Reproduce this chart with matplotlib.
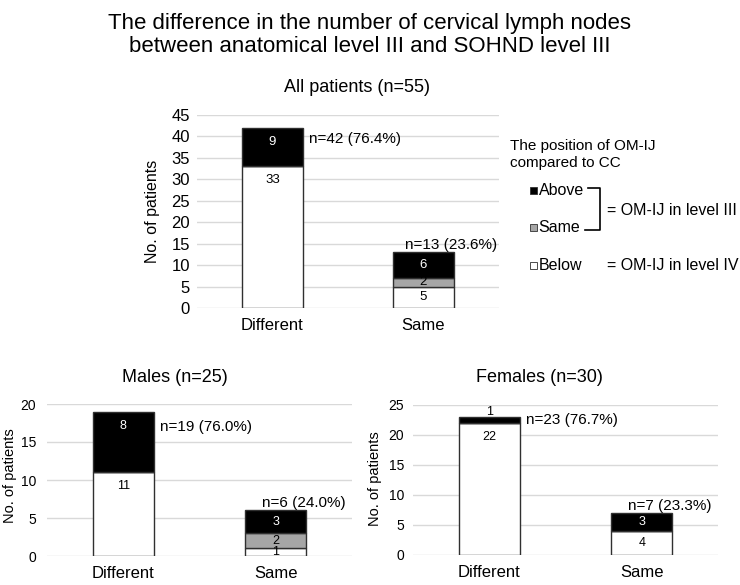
import matplotlib
matplotlib.use("Agg")
import matplotlib.pyplot as plt
from matplotlib.patches import Rectangle
from matplotlib.lines import Line2D

plt.rcParams["font.family"] = ["Liberation Sans", "DejaVu Sans"]

# data
categories = ["Different", "Same"]
positions = ["Above", "Same", "Below"]
position_colors = ["black", "#a6a6a6", "white"]

all_above = [9, 6]
all_same = [0, 2]
all_below = [33, 5]

males_above = [8, 3]
males_same = [0, 2]
males_below = [11, 1]

females_above = [1, 3]
females_same = [0, 0]
females_below = [22, 4]

W, H = 740, 585
EDGE = "#303030"


def fx(px):
    return px / W


def fy(py):
    return 1 - py / H


def box(left, top, right, bottom):
    # pixel box -> [l, b, w, h] figure fraction
    return [fx(left), fy(bottom), (right - left) / W, (bottom - top) / H]


def draw_panel(ax, below, same, above, ymax, title, title_x, title_gap,
               ylabel_x, ylabel_y, tick_fs, ylabel_fs, seg_fs, n_fs, ypad, n_dy):
    x = list(range(len(categories)))
    ax.set_xlim(-0.5, len(categories) - 0.5)
    ax.set_ylim(0, ymax)
    ax.set_yticks(range(0, ymax + 1, 5))
    ax.set_xticks(x)
    ax.set_xticklabels(categories, fontsize=12)
    ax.tick_params(axis="y", length=0, labelsize=tick_fs, pad=ypad)
    ax.tick_params(axis="x", length=0, pad=7)
    ax.grid(axis="y", color="#d9d9d9", lw=1.0)
    ax.set_axisbelow(True)
    for s in ax.spines.values():
        s.set_visible(False)

    ax.set_ylabel("No. of patients", fontsize=ylabel_fs, va="center")
    ax.yaxis.set_label_coords(ylabel_x, ylabel_y)
    ax_h = ax.bbox.height
    ax.text(title_x, 1 + title_gap / ax_h, title, transform=ax.transAxes,
            ha="center", va="center", fontsize=13)

    px_per_unit = ax_h / ymax
    bottom = [0] * len(categories)
    stacks = [("Below", below, "white"), ("Same", same, "#a6a6a6"), ("Above", above, "black")]
    for name, vals, col in stacks:
        ax.bar(x, vals, 0.4, bottom=bottom, color=col, edgecolor=EDGE, lw=1.0, zorder=2)
        for xi, v, b in zip(x, vals, bottom):
            if v == 0:
                continue
            h = v * px_per_unit
            tcol = "white" if name == "Above" else "black"
            if h / 2 >= 14:
                dy = -14
            elif name == "Above" and h < 10:
                dy = 5
                tcol = "black"
            else:
                dy = -h / 2
            ax.annotate(str(v), (xi, b + v), xytext=(0, dy * 0.72), textcoords="offset points",
                        ha="center", va="center", fontsize=seg_fs, color=tcol, zorder=3)
        bottom = [b + v for b, v in zip(bottom, vals)]

    total = sum(bottom)
    for xi, n in zip(x, bottom):
        label = f"n={n} ({n / total * 100:.1f}%)"
        if xi == 0:
            ax.annotate(label, (xi + 0.2, n), xytext=(6 * 0.72, -n_dy * 0.72),
                        textcoords="offset points", ha="left", va="center", fontsize=n_fs)
        else:
            ax.annotate(label, (xi, n), xytext=(28 * 0.72, 7 * 0.72),
                        textcoords="offset points", ha="center", va="center", fontsize=n_fs)


fig = plt.figure(figsize=(W / 100, H / 100), dpi=100)

fig.text(0.5, fy(35), "The difference in the number of cervical lymph nodes\n"
         "between anatomical level III and SOHND level III",
         ha="center", va="center", fontsize=16, linespacing=1.17)

ax_all = fig.add_axes(box(197, 115, 499, 308))
draw_panel(ax_all, all_below, all_same, all_above, 45, "All patients (n=55)",
           0.53, 28, -0.146, 0.5, 12, 11.5, 9.5, 11, 5, 11)

ax_m = fig.add_axes(box(47, 404, 352, 556))
draw_panel(ax_m, males_below, males_same, males_above, 20, "Males (n=25)",
           0.418, 26, -0.121, 0.53, 10, 10.5, 9, 11, 8, 15)

ax_f = fig.add_axes(box(413, 405, 718, 555))
draw_panel(ax_f, females_below, females_same, females_above, 25, "Females (n=30)",
           0.416, 28, -0.125, 0.51, 10, 10.5, 9, 11, 6.5, 3)

# legend (drawn by hand to get the bracket)
fig.text(fx(510), fy(154.5), "The position of OM-IJ\ncompared to CC",
         ha="left", va="center", fontsize=11, linespacing=1.25)
for name, col, py in zip(positions, position_colors, [191, 228, 266]):
    fig.add_artist(Rectangle((fx(530), fy(py + 3.5)), 7 / W, 7 / H, transform=fig.transFigure,
                             facecolor=col, edgecolor=EDGE, lw=0.6))
    fig.text(fx(538.5), fy(py), name, ha="left", va="center", fontsize=11.5)

fig.add_artist(Line2D([fx(588), fx(600), fx(600), fx(585)], [fy(188), fy(188), fy(230), fy(230)],
                      transform=fig.transFigure, color="black", lw=1.2))
fig.text(fx(607), fy(210), "= OM-IJ in level III", ha="left", va="center", fontsize=11.5)
fig.text(fx(607), fy(266), "= OM-IJ in level IV", ha="left", va="center", fontsize=11.5)

fig.savefig("out.png", dpi=100)
